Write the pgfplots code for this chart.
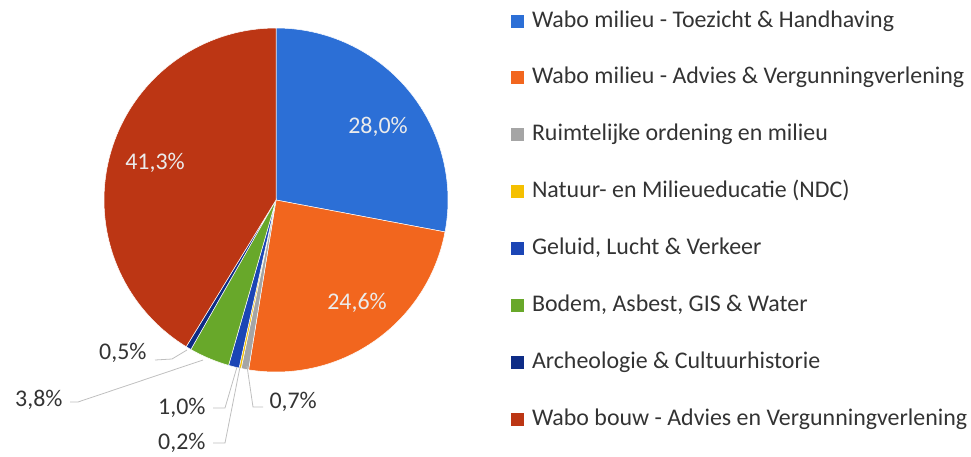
\documentclass[border=0pt]{standalone}
\usepackage{pgfplots}
\pgfplotsset{compat=1.18}
\usepackage{fontspec}
\setmainfont{Carlito}

\definecolor{cToez}{HTML}{2C6FD6}
\definecolor{cAdv}{HTML}{F2661E}
\definecolor{cRuimte}{HTML}{A5A5A5}
\definecolor{cNdc}{HTML}{F5C000}
\definecolor{cGeluid}{HTML}{1B45B5}
\definecolor{cBodem}{HTML}{68A82A}
\definecolor{cArch}{HTML}{0E2C86}
\definecolor{cBouw}{HTML}{BC3614}
\definecolor{lead}{HTML}{BFBFBF}
\definecolor{txt}{HTML}{333333}

% pie: centre and radius in picture units (1 unit = 1bp)
\def\cx{276}
\def\cy{253}
\def\rr{172}
\def\angA{90}
% one slice, clockwise from the running angle \angA
\newcommand\slice[2]{%
  \pgfmathsetmacro\angB{\angA-#1*360/100.1}%
  \edef\doslice{\noexpand\addplot[fill=#2, draw=white, line width=0.5pt,
    domain=\angB:\angA, samples=80]
    ({\cx+\rr*cos(x)},{\cy+\rr*sin(x)}) -- (axis cs:\cx,\cy) -- cycle;}%
  \doslice
  \global\let\angA\angB
}

\begin{document}
\begin{tikzpicture}
\begin{axis}[
    scale only axis,
    width=971bp, height=453bp,
    xmin=0, xmax=971, ymin=0, ymax=453,
    hide axis, clip=false,
    font=\fontsize{24}{28}\selectfont,
    legend image code/.code={\fill[#1, draw=none] (0bp,-6.5bp) rectangle (13bp,6.5bp);},
    legend cell align=left,
    legend style={at={(axis cs:511,443)}, anchor=north west, draw=none, fill=none,
      inner sep=0pt, outer sep=0pt, row sep=34.9bp, column sep=8bp,
      text=txt, font=\fontsize{24}{28}\selectfont,
      nodes={inner sep=0pt, text height=17bp, text depth=5bp}},
]
\path (axis cs:0,0) rectangle (axis cs:971,453);

\slice{28.0}{cToez}
\slice{24.6}{cAdv}
\slice{0.7}{cRuimte}
\slice{0.2}{cNdc}
\slice{1.0}{cGeluid}
\slice{3.8}{cBodem}
\slice{0.5}{cArch}
\slice{41.3}{cBouw}

\legend{Wabo milieu - Toezicht \& Handhaving,
  Wabo milieu - Advies \& Vergunningverlening,
  Ruimtelijke ordening en milieu,
  Natuur- en Milieueducatie (NDC),
  {Geluid, Lucht \& Verkeer},
  {Bodem, Asbest, GIS \& Water},
  Archeologie \& Cultuurhistorie,
  Wabo bouw - Advies en Vergunningverlening}

% labels inside the slices
\node[text=white!92!black] at (axis cs:378,326) {28,0\%};
\node[text=white!92!black] at (axis cs:357,150) {24,6\%};
\node[text=white!92!black] at (axis cs:155,290) {41,3\%};

% leader lines and outside labels
\draw[lead, line width=0.8pt] (axis cs:155,93) -- (axis cs:172,94) -- (axis cs:187,103);
\node[text=txt, anchor=east] at (axis cs:150,100) {0,5\%};
\draw[lead, line width=0.8pt] (axis cs:70,51) -- (axis cs:78,51) -- (axis cs:203,93);
\node[text=txt, anchor=east] at (axis cs:66,53) {3,8\%};
\draw[lead, line width=0.8pt] (axis cs:213,45) -- (axis cs:225,45) -- (axis cs:237,86);
\node[text=txt, anchor=east] at (axis cs:209,45) {1,0\%};
\draw[lead, line width=0.8pt] (axis cs:213,10) -- (axis cs:225,10) -- (axis cs:240,86);
\node[text=txt, anchor=east] at (axis cs:209,10) {0,2\%};
\draw[lead, line width=0.8pt] (axis cs:263,46) -- (axis cs:253,46) -- (axis cs:247,87);
\node[text=txt, anchor=west] at (axis cs:266,51) {0,7\%};
\end{axis}
\end{tikzpicture}
\end{document}
